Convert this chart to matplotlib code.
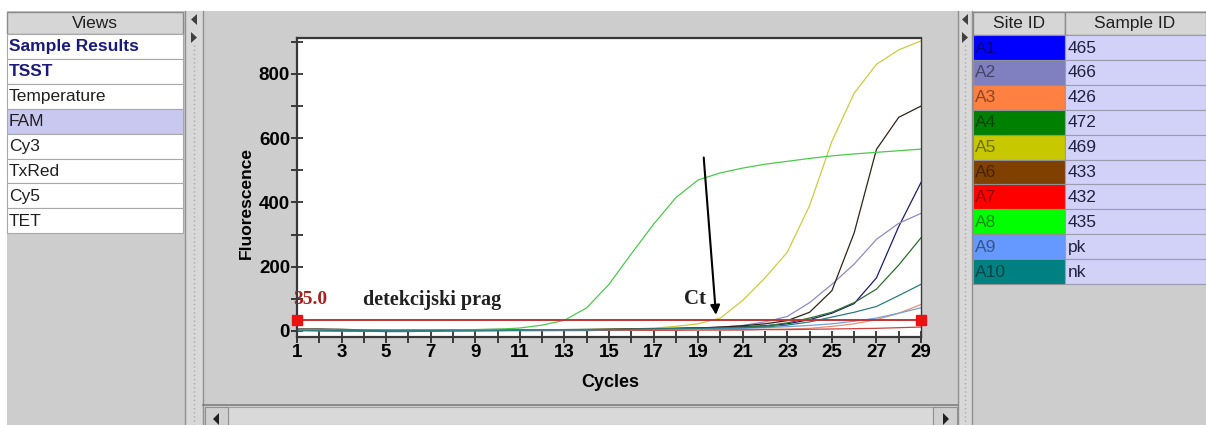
import matplotlib.pyplot as plt
from matplotlib.patches import Rectangle, Polygon

# --- data ---
cycles = list(range(1, 30))

site_ids = ['A1', 'A2', 'A3', 'A4', 'A5', 'A6', 'A7', 'A8', 'A9', 'A10']
sample_ids = ['465', '466', '426', '472', '469', '433', '432', '435', 'pk', 'nk']
site_colors = ['#0000ff', '#8080c0', '#ff8040', '#008000', '#c8c800',
               '#804000', '#ff0000', '#00ff00', '#6699ff', '#008080']
# colours of the thin curves as they look in the plot
line_colors = ['#1c1c70', '#8c8cc0', '#e89070', '#2e6e2e', '#cccc40',
               '#302418', '#d04040', '#4cc84c', '#70a0e0', '#2a7c7c']

a1 = [2, 1, 0, -1, -2, -2, -1, 0, 1, 1, 2, 2, 3, 3, 4, 5, 6, 7, 9, 11, 13, 16, 22, 35, 55, 85, 165, 325, 462]
a2 = [4, 3, 3, 2, 2, 2, 2, 3, 3, 3, 3, 4, 4, 4, 5, 5, 6, 7, 9, 11, 17, 28, 45, 88, 145, 208, 285, 335, 366]
a3 = [1, 1, 0, 0, 0, 0, 1, 1, 1, 1, 1, 1, 2, 2, 2, 2, 2, 3, 3, 3, 4, 5, 6, 8, 14, 22, 35, 55, 82]
a4 = [3, 2, 2, 1, 1, 1, 2, 3, 4, 5, 4, 4, 4, 5, 5, 6, 7, 8, 9, 10, 12, 15, 25, 40, 58, 88, 130, 205, 290]
a5 = [2, 2, 2, 2, 2, 2, 2, 2, 2, 3, 3, 3, 4, 4, 5, 6, 9, 14, 22, 40, 95, 165, 245, 390, 590, 740, 830, 875, 903]
a6 = [6, 6, 5, 3, 2, 2, 2, 2, 2, 3, 3, 3, 4, 4, 5, 6, 7, 8, 9, 12, 16, 22, 32, 58, 125, 305, 565, 665, 700]
a7 = [1, 0, 0, 0, 0, 0, 0, 0, 0, 1, 1, 1, 1, 1, 2, 2, 2, 2, 3, 3, 3, 4, 4, 5, 6, 7, 8, 10, 12]
a8 = [2, 2, 2, 2, 2, 2, 3, 4, 4, 5, 9, 18, 33, 72, 145, 240, 332, 415, 470, 492, 507, 519, 528, 537, 545, 551, 556, 561, 566]
a9 = [3, 3, 2, 2, 2, 1, 1, 1, 2, 2, 2, 3, 3, 3, 4, 4, 5, 5, 6, 7, 8, 10, 13, 17, 22, 30, 40, 55, 72]
a10 = [2, 2, 1, 1, 1, 1, 1, 2, 2, 2, 2, 3, 3, 3, 4, 5, 6, 7, 8, 9, 10, 12, 18, 28, 43, 58, 76, 110, 145]
series = [a1, a2, a3, a4, a5, a6, a7, a8, a9, a10]

threshold = 35.0
views = ['Sample Results', 'TSST', 'Temperature', 'FAM', 'Cy3', 'TxRed', 'Cy5', 'TET']
x_labels = [str(c) if c % 2 == 1 else '' for c in cycles]
y_ticks = list(range(0, 1000, 100))
y_labels = [str(v) if v % 200 == 0 else '' for v in y_ticks]

# --- figure ---
W, H = 1206, 425
GRAY = '#cdcdcd'
SANS = 'Liberation Sans'
SERIF = 'Liberation Serif'

fig = plt.figure(figsize=(W / 100, H / 100), dpi=100, facecolor='white')

# window chrome drawn in pixel coordinates
ui = fig.add_axes([0, 0, 1, 1], zorder=0)
ui.set_xlim(0, W)
ui.set_ylim(H, 0)
ui.axis('off')

ui.add_patch(Rectangle((7, 11), W - 7, H - 11, fc=GRAY, ec='none'))

# left list "Views"
ui.add_patch(Rectangle((7, 12), 176, 22, fc='#d6d6d6', ec='#8a8a8a', lw=1))
ui.text(95, 23, 'Views', ha='center', va='center', fontsize=12.5, family=SANS, color='#202020')
row_h = 24.9
for i, name in enumerate(views):
    y0 = 34 + i * row_h
    fc = '#c8c8f0' if name == 'FAM' else 'white'
    ui.add_patch(Rectangle((7, y0), 176, row_h, fc=fc, ec='#a8a8a8', lw=0.8))
    bold = i < 2
    ui.text(9, y0 + row_h / 2 + 0.5, name, ha='left', va='center', fontsize=12.5, family=SANS,
            fontweight='bold' if bold else 'normal', color='#1a1a7a' if bold else '#202020')

# splitters
for x0, x1 in [(185, 203), (958, 972)]:
    ui.add_patch(Rectangle((x0, 11), x1 - x0, H - 11, fc='#d8d8d8', ec='none'))
    ui.plot([x0, x0], [11, H], color='#909090', lw=1)
    ui.plot([x1, x1], [11, H], color='#909090', lw=1)
    xm = (x0 + x1) / 2
    ui.plot([xm, xm], [45, H], color='#a8a8a8', lw=1, ls=(0, (1, 2)))
    ui.add_patch(Polygon([[xm + 3, 14], [xm + 3, 25], [xm - 3, 19.5]], fc='#404040', ec='none'))
    ui.add_patch(Polygon([[xm - 3, 32], [xm - 3, 43], [xm + 3, 37.5]], fc='#404040', ec='none'))

# bottom scrollbar
ui.plot([203, 958], [405, 405], color='#808080', lw=1.2)
ui.add_patch(Rectangle((228, 407), 705, 18, fc='#d9d9d9', ec='#a0a0a0', lw=0.8))
ui.add_patch(Rectangle((205, 407), 23, 18, fc='#d0d0d0', ec='#909090', lw=0.8))
ui.add_patch(Rectangle((933, 407), 24, 18, fc='#d0d0d0', ec='#909090', lw=0.8))
ui.add_patch(Polygon([[219, 413], [219, 425], [213, 419]], fc='#202020', ec='none'))
ui.add_patch(Polygon([[943, 413], [943, 425], [949, 419]], fc='#202020', ec='none'))

# right table
ui.add_patch(Rectangle((973, 12), 92, 23, fc='#d6d6d6', ec='#8a8a8a', lw=1))
ui.add_patch(Rectangle((1065, 12), 141, 23, fc='#d6d6d6', ec='#8a8a8a', lw=1))
ui.text(1019, 23.5, 'Site ID', ha='center', va='center', fontsize=12.5, family=SANS, color='#202020')
ui.text(1135, 23.5, 'Sample ID', ha='center', va='center', fontsize=12.5, family=SANS, color='#202020')
for i, (sid, smp, col) in enumerate(zip(site_ids, sample_ids, site_colors)):
    y0 = 35 + i * 24.9
    ui.add_patch(Rectangle((973, y0), 92, 24.9, fc=col, ec='#909090', lw=0.8))
    ui.add_patch(Rectangle((1065, y0), 141, 24.9, fc='#d2d2f8', ec='#9a9ab0', lw=0.8))
    rgb = [int(col[k:k + 2], 16) for k in (1, 3, 5)]
    txt_col = '#%02x%02x%02x' % tuple(int(c * 0.55) for c in rgb)
    ui.text(975, y0 + 13, sid, ha='left', va='center', fontsize=12.5, family=SANS, color=txt_col)
    ui.text(1068, y0 + 13, smp, ha='left', va='center', fontsize=12.5, family=SANS, color='#202040')

# --- the amplification plot ---
ax = fig.add_axes([297 / W, (H - 337) / H, (921 - 297) / W, (337 - 38) / H], zorder=2)
ax.set_facecolor('white')

for vals, col in zip(series, line_colors):
    ax.plot(cycles, vals, color=col, lw=0.9)

ax.plot([cycles[0], cycles[-1]], [threshold, threshold], color='#c03434', lw=1.4)
ax.plot([cycles[0], cycles[-1]], [threshold, threshold], ls='none', marker='s', ms=7,
        color='#ee1111', clip_on=False, zorder=5)

ax.text(0.82, 97, '%.1f' % threshold, color='#a82020', fontsize=14, family=SERIF,
        fontweight='bold', ha='left', va='center')
ax.text(3.96, 97, 'detekcijski prag', color='#202020', fontsize=14.5, family=SERIF,
        fontweight='bold', ha='left', va='center')
ax.text(18.35, 99, 'Ct', color='#202020', fontsize=15, family=SERIF,
        fontweight='bold', ha='left', va='center')
ax.annotate('', xy=(19.8, 50), xytext=(19.25, 540),
            arrowprops=dict(arrowstyle='-|>', color='black', lw=1.5, mutation_scale=14,
                            shrinkA=0, shrinkB=0))

ax.set_xlim(1, 29)
ax.set_ylim(-19, 912)
ax.set_xticks(cycles)
ax.set_xticklabels(x_labels)
ax.set_yticks(y_ticks)
ax.set_yticklabels(y_labels)
ax.tick_params(direction='inout', length=8, width=1.2, color='#202020', pad=1,
               labelsize=13.5)
for lab in ax.get_xticklabels() + ax.get_yticklabels():
    lab.set_fontweight('bold')
    lab.set_family(SANS)
for s in ax.spines.values():
    s.set_color('#383838')
    s.set_linewidth(1.6)
ax.spines['right'].set_linewidth(1.0)

ax.set_xlabel('Cycles', fontsize=13, fontweight='bold', family=SANS)
ax.set_ylabel('Fluorescence', fontsize=12.5, fontweight='bold', family=SANS)
ax.xaxis.set_label_coords((610 - 297) / 624, (337 - 374) / 299)
ax.yaxis.set_label_coords((254 - 297) / 624, (337 - 203) / 299)

fig.savefig('out.png', dpi=100, facecolor=fig.get_facecolor())
